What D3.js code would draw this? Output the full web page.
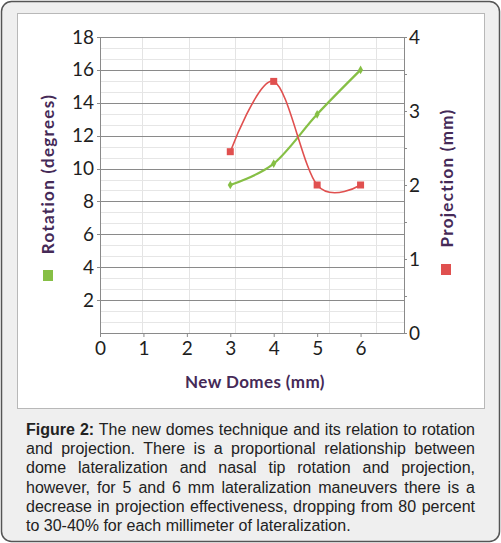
<!DOCTYPE html>
<html>
<head>
<meta charset="utf-8">
<script src="https://cdn.jsdelivr.net/npm/d3@7"></script>
<style>
  body { margin: 0; background: #fff; }
  #wrap { position: relative; width: 501px; height: 543px; }
  #chart { position: absolute; left: 0; top: 0; }
  #caption {
    position: absolute; left: 26px; top: 420px; width: 449px;
    font-family: "Liberation Sans", Arial, sans-serif; font-size: 16px;
    line-height: 19.2px; color: #222;
  }
  #caption div { text-align: justify; text-align-last: justify; white-space: nowrap; }
  #caption div:last-child { text-align-last: left; }
  #caption b { font-weight: bold; }
</style>
</head>
<body>
<div id="wrap">
  <div id="chart"></div>
  <div id="caption"></div>
</div>
<script>
// Data
const domes = [3, 4, 5, 6];
const rotation = [9, 10.3, 13.3, 16];      // degrees, left axis
const projection = [2.45, 3.4, 2, 2];      // mm, right axis
const xTicks = [0, 1, 2, 3, 4, 5, 6];
const leftTicks = [2, 4, 6, 8, 10, 12, 14, 16, 18];
const rightTicks = [0, 1, 2, 3, 4];
const gridX = [0.96, 2.04, 3.12, 4.2, 5.28, 6.36];

const captionLines = [
  'The new domes technique and its relation to rotation',
  'and projection. There is a proportional relationship between',
  'dome lateralization and nasal tip rotation and projection,',
  'however, for 5 and 6 mm lateralization maneuvers there is a',
  'decrease in projection effectiveness, dropping from 80 percent',
  'to 30-40% for each millimeter of lateralization.'
];

const width = 501, height = 543;
const plot = {left: 100, right: 404, top: 37, bottom: 333};
const green = '#86bf45', red = '#e0504f', purple = '#452a57';

// Caption, one block per line as in the figure
let cap = d3.select('#caption').selectAll('div')
  .data(captionLines)
  .enter().append('div');
cap.filter((d, i) => i === 0).append('b').text('Figure 2:');
cap.append('span').text((d, i) => (i === 0 ? ' ' : '') + d);

let svg = d3.select('#chart').append('svg')
  .attr('width', width)
  .attr('height', height);

// Outer box and white panel
svg.append('rect')
  .attr('x', 1.5).attr('y', 1.5)
  .attr('width', width - 3).attr('height', height - 3)
  .attr('rx', 10)
  .attr('fill', '#efefef')
  .attr('stroke', '#555')
  .attr('stroke-width', 1.5);
svg.append('rect')
  .attr('x', 17.5).attr('y', 13.5)
  .attr('width', 467).attr('height', 395)
  .attr('fill', '#fff')
  .attr('stroke', '#b8b8b8');

// Scales
let x = d3.scaleLinear().domain([0, 7]).range([plot.left, plot.right]);
let yL = d3.scaleLinear().domain([0, 18]).range([plot.bottom, plot.top]);
let yR = d3.scaleLinear().domain([0, 4]).range([plot.bottom, plot.top]);

// Grid
let grid = svg.append('g');
grid.selectAll('.vgrid')
  .data(gridX)
  .enter().append('line')
    .attr('x1', d => Math.round(x(d)) + 0.5)
    .attr('x2', d => Math.round(x(d)) + 0.5)
    .attr('y1', plot.top)
    .attr('y2', plot.bottom)
    .attr('stroke', '#e4e4e4');
grid.selectAll('.minor')
  .data(d3.range(0, 18, 2 / 3).filter((d, i) => i % 3 !== 0))
  .enter().append('line')
    .attr('x1', plot.left).attr('x2', plot.right)
    .attr('y1', d => Math.round(yL(d)) + 0.5)
    .attr('y2', d => Math.round(yL(d)) + 0.5)
    .attr('stroke', '#e6e6e6');
grid.selectAll('.major')
  .data(leftTicks)
  .enter().append('line')
    .attr('x1', plot.left - 3).attr('x2', plot.right)
    .attr('y1', d => Math.round(yL(d)) + 0.5)
    .attr('y2', d => Math.round(yL(d)) + 0.5)
    .attr('stroke', '#8a8a8a');

// Axes
function styleAxis(g) {
  g.select('.domain').attr('stroke', '#8a8a8a');
  g.selectAll('.tick line').attr('stroke', '#8a8a8a');
  g.selectAll('.tick text')
    .attr('fill', '#1e1e1e')
    .style('font-family', 'Lato, "Open Sans", sans-serif')
    .style('font-size', '19px');
}

svg.append('g')
  .attr('transform', 'translate(0,' + plot.bottom + ')')
  .call(d3.axisBottom(x).tickValues(xTicks).tickFormat(d3.format('d'))
    .tickSize(4).tickPadding(5).tickSizeOuter(0))
  .call(styleAxis);

svg.append('g')
  .attr('transform', 'translate(' + plot.left + ',0)')
  .call(d3.axisLeft(yL).tickValues(leftTicks).tickFormat(d3.format('d'))
    .tickSize(0).tickPadding(6).tickSizeOuter(0))
  .call(styleAxis);

svg.append('g')
  .attr('transform', 'translate(' + plot.right + ',0)')
  .call(d3.axisRight(yR).tickValues(d3.range(0, 4.01, 0.5)).tickFormat(d => rightTicks.includes(d) ? d : '')
    .tickSize(3).tickPadding(2).tickSizeOuter(0))
  .call(styleAxis);

// Series (Excel-style smoothing = uniform Catmull-Rom)
let pts = domes.map((d, i) => ({x: d, rot: rotation[i], proj: projection[i]}));

svg.append('path')
  .datum(pts)
  .attr('fill', 'none')
  .attr('stroke', green)
  .attr('stroke-width', 2.2)
  .attr('d', d3.line().x(d => x(d.x)).y(d => yL(d.rot)).curve(d3.curveCardinal.tension(0)));

svg.append('path')
  .datum(pts)
  .attr('fill', 'none')
  .attr('stroke', red)
  .attr('stroke-width', 1.6)
  .attr('d', d3.line().x(d => x(d.x)).y(d => yR(d.proj)).curve(d3.curveCardinal.tension(0)));

svg.selectAll('.gmark')
  .data(pts)
  .enter().append('path')
    .attr('transform', d => 'translate(' + x(d.x) + ',' + yL(d.rot) + ')')
    .attr('d', d3.symbol(d3.symbolDiamond, 22)())
    .attr('fill', green);

svg.selectAll('.rmark')
  .data(pts)
  .enter().append('rect')
    .attr('x', d => x(d.x) - 3.5)
    .attr('y', d => yR(d.proj) - 3.5)
    .attr('width', 7).attr('height', 7)
    .attr('fill', red);

// Axis titles
const titleFont = 'Lato, "Open Sans", sans-serif';
svg.append('text')
  .attr('transform', 'translate(48,174) rotate(-90)')
  .attr('text-anchor', 'middle')
  .attr('dy', '0.35em')
  .attr('fill', purple)
  .style('font-family', titleFont)
  .style('font-size', '17px')
  .style('font-weight', 700)
  .style('letter-spacing', '1.3px')
  .text('Rotation (degrees)');
svg.append('rect')
  .attr('x', 43).attr('y', 270).attr('width', 10).attr('height', 11)
  .attr('fill', green);

svg.append('text')
  .attr('transform', 'translate(447,178) rotate(-90)')
  .attr('text-anchor', 'middle')
  .attr('dy', '0.35em')
  .attr('fill', purple)
  .style('font-family', titleFont)
  .style('font-size', '17px')
  .style('font-weight', 700)
  .style('letter-spacing', '1.3px')
  .text('Projection (mm)');
svg.append('rect')
  .attr('x', 441).attr('y', 264).attr('width', 10).attr('height', 11)
  .attr('fill', red);

svg.append('text')
  .attr('x', (plot.left + plot.right) / 2 + 3)
  .attr('y', 388)
  .attr('text-anchor', 'middle')
  .attr('fill', purple)
  .style('font-family', titleFont)
  .style('font-size', '17px')
  .style('font-weight', 700)
  .style('letter-spacing', '0.4px')
  .text('New Domes (mm)');
</script>
</body>
</html>
